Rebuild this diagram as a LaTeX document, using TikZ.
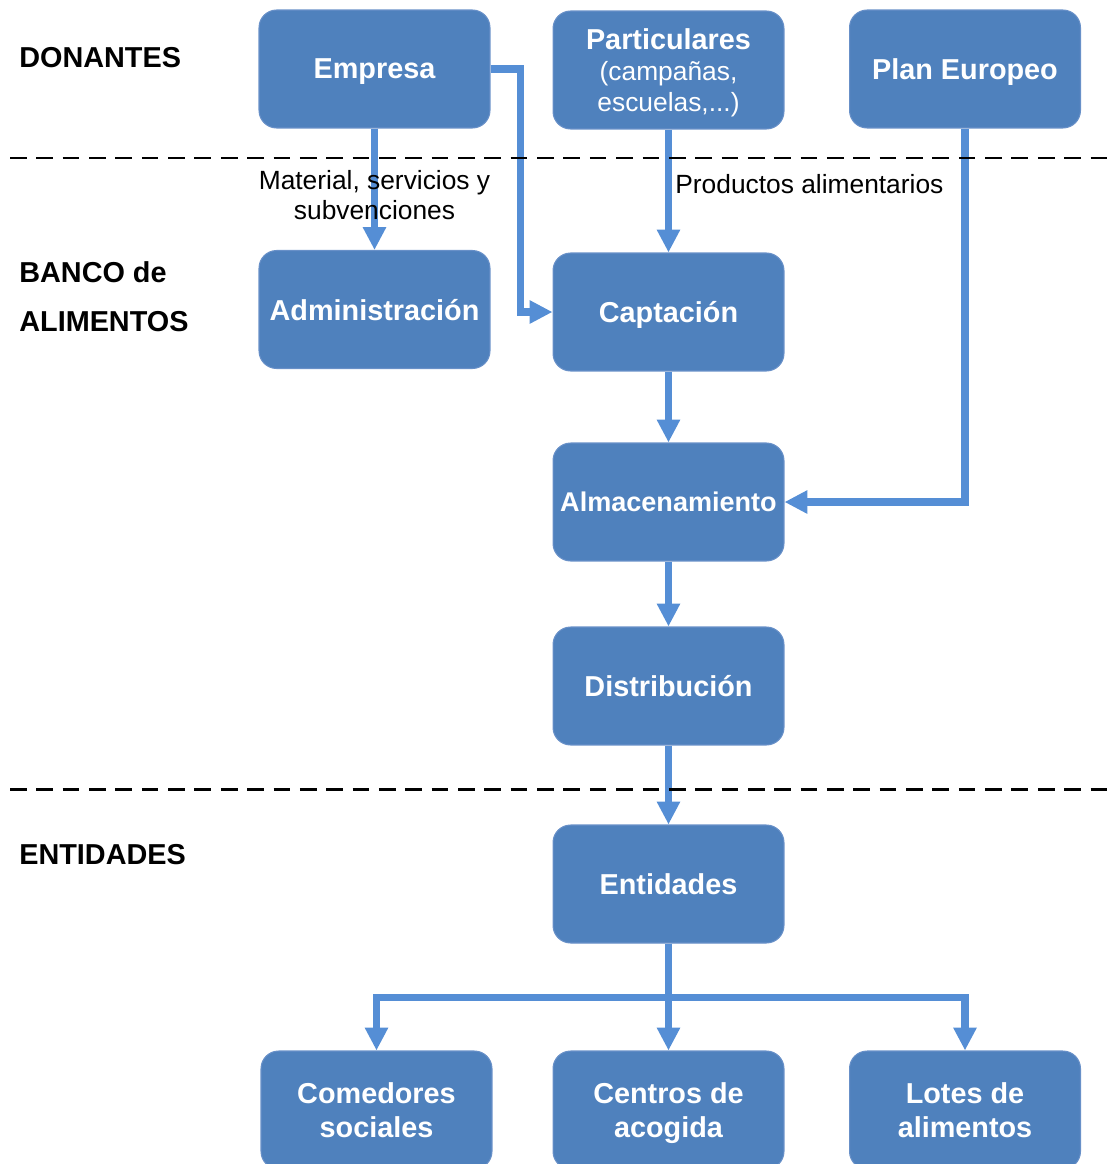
\documentclass[tikz,border=0pt]{standalone}
\usepackage{fontspec}
\setmainfont{Liberation Sans}
\usepackage{tikz}
\usetikzlibrary{arrows.meta,positioning}
\definecolor{boxfill}{HTML}{4F81BD}
\definecolor{boxline}{HTML}{6890C8}
\definecolor{flowblue}{HTML}{558ED5}
\newcommand{\subtxt}{\mdseries\fontsize{15}{17}\selectfont}
\tikzset{
  stage/.style={draw=boxline,line width=0.6pt,fill=boxfill,rounded corners=10pt,
    text=white,align=center,font=\bfseries\fontsize{16.4}{19.3}\selectfont,
    minimum width=4.62cm,minimum height=2.36cm,inner sep=2pt,text depth=0pt},
  flow/.style={-{Triangle[length=13pt,width=12.5pt]},line width=4pt,draw=flowblue},
  band/.style={line width=1.7pt,dash pattern=on 9.5pt off 5.5pt},
  lanelabel/.style={font=\bfseries\fontsize{16.4}{19.3}\selectfont,anchor=west,align=left,inner sep=0pt},
  note/.style={font=\fontsize{15}{17}\selectfont,align=center,inner sep=0pt},
}
\begin{document}
\begin{tikzpicture}[x=0.02cm,y=-0.02cm]
  \useasboundingbox (0,0) rectangle (1110,1164);
  % donantes
  \node[stage] (empresa) at (374.5,69) {Empresa};
  \node[stage,font=\bfseries\fontsize{16.4}{17.5}\selectfont] (particulares) at (668.5,70)
    {Particulares\\\subtxt (campañas,\\\subtxt escuelas,...)};
  \node[stage] (plan) at (965,69) {Plan Europeo};
  % banco de alimentos
  \node[stage] (admin) at (374.5,309.5) {Administración};
  \node[stage] (captacion) at (668.5,312) {Captación};
  \node[stage,font=\bfseries\fontsize{15.4}{18}\selectfont] (almacen) at (668.5,502) {Almacenamiento};
  \node[stage] (distribucion) at (668.5,686) {Distribución};
  % entidades
  \node[stage] (entidades) at (668.5,884) {Entidades};
  \node[stage] (comedores) at (376.5,1110) {Comedores\\sociales};
  \node[stage] (centros) at (668.5,1110) {Centros de\\acogida};
  \node[stage] (lotes) at (965,1110) {Lotes de\\alimentos};
  % flujos
  \draw[flow] (empresa) -- (admin);
  \draw[flow] (empresa.east) -- ++(30,0) |- (captacion.west);
  \draw[flow] (particulares) -- (captacion);
  \draw[flow] (plan.south) |- (almacen.east);
  \draw[flow] (captacion) -- (almacen);
  \draw[flow] (almacen) -- (distribucion);
  \draw[flow] (distribucion) -- (entidades);
  \draw[flow] (entidades.south) -- ++(0,54) -| (comedores.north);
  \draw[flow] (entidades.south) -- ++(0,54) -| (lotes.north);
  \draw[flow] (entidades) -- (centros);
  % separadores
  \draw[band] (10,158) -- (1110,158);
  \draw[band] (10,789) -- (1110,789);
  \node[lanelabel] (donantes) at (19,58) {DONANTES};
  \node[lanelabel] (banco) at (19,297) {BANCO de\\[8.7pt]ALIMENTOS};
  \node[lanelabel] (entlabel) at (19,855) {ENTIDADES};
  \node[note] (material) at (374.5,195) {Material, servicios y\\subvenciones};
  \node[note,anchor=west] (productos) at (675,184) {Productos alimentarios};
\end{tikzpicture}
\end{document}
